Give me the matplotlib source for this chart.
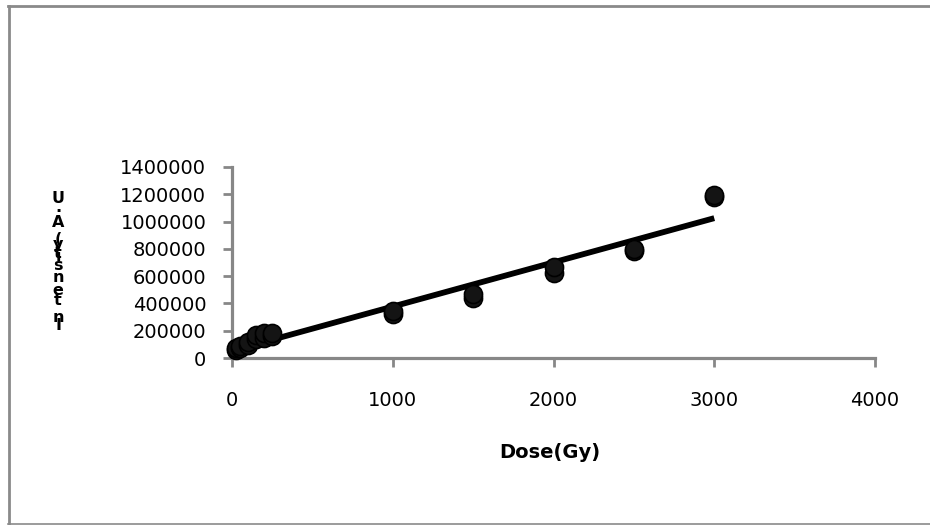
import matplotlib
matplotlib.use("Agg")
import matplotlib.pyplot as plt
from matplotlib.lines import Line2D
import numpy as np

# ---- data ----
dose_low = [25, 25, 50, 50, 100, 100, 150, 150, 200, 200, 250, 250]
intensity_low = [60000, 75000, 70000, 90000, 95000, 120000,
                 140000, 170000, 150000, 185000, 160000, 180000]
dose_high = [1000, 1000, 1500, 1500, 2000, 2000, 2500, 2500, 3000, 3000]
intensity_high = [320000, 342000, 440000, 470000, 623000, 667000,
                  784000, 799000, 1180000, 1195000]
trend_slope = 324.0
trend_intercept = 53000.0
x_ticks = [0, 1000, 2000, 3000, 4000]
y_ticks = [0, 200000, 400000, 600000, 800000, 1000000, 1200000, 1400000]
x_label = "Dose(Gy)"
y_label = "Intensity(A.U"

W, H = 930, 525
fig = plt.figure(figsize=(W / 100, H / 100), dpi=100)
fig.patch.set_facecolor("white")

ax = fig.add_axes([232 / W, 1 - 358 / H, (875 - 232) / W, (358 - 167) / H])
dose = dose_low + dose_high
inten = intensity_low + intensity_high
ax.plot(dose, inten, linestyle="none", marker="o", markersize=13,
        markerfacecolor="#141414", markeredgecolor="black", markeredgewidth=1.2,
        zorder=3, clip_on=False)
xs = np.array([min(dose), max(dose)])
ax.plot(xs, trend_intercept + trend_slope * xs, color="black", lw=4.2,
        solid_capstyle="butt", zorder=2)

ax.set_xlim(0, 4000)
ax.set_ylim(0, 1400000)
ax.set_xticks(x_ticks)
ax.set_yticks(y_ticks)
ax.set_xticklabels([str(v) for v in x_ticks])
ax.set_yticklabels([str(v) for v in y_ticks])

gray = "#878787"
for s in ["top", "right"]:
    ax.spines[s].set_visible(False)
for s in ["left", "bottom"]:
    ax.spines[s].set_color(gray)
    ax.spines[s].set_linewidth(2.3)
ax.tick_params(axis="both", direction="out", color=gray, width=2.0,
               length=6.5, labelsize=14, labelcolor="black")
ax.tick_params(axis="x", pad=17)
ax.tick_params(axis="y", pad=12)
for t in ax.get_xticklabels() + ax.get_yticklabels():
    t.set_fontfamily("DejaVu Sans")

# x label
fig.text(550 / W, 1 - 452 / H, x_label, ha="center", va="center",
         fontsize=14, fontweight="bold", family="DejaVu Sans")

# y label: characters stacked upright from bottom to top
char_baselines = [330, 322, 305, 295, 282, 270, 261, 258, 249, 244, 227, 212, 203]
for ch, yb in zip(y_label, char_baselines):
    fig.text(58 / W, 1 - yb / H, ch, ha="center", va="baseline",
             fontsize=11.5, fontweight="bold", family="DejaVu Sans")

# chart-area border (left, top, bottom)
bc = "#8a8a8a"
fig.add_artist(Line2D([9 / W, 9 / W], [1 - 6 / H, 1 - 523.5 / H],
                      transform=fig.transFigure, color=bc, lw=2.0))
fig.add_artist(Line2D([8 / W, 1.0], [1 - 6 / H, 1 - 6 / H],
                      transform=fig.transFigure, color=bc, lw=2.0))
fig.add_artist(Line2D([8 / W, 1.0], [1 - 523.5 / H, 1 - 523.5 / H],
                      transform=fig.transFigure, color=bc, lw=1.2))

fig.savefig("out.png", dpi=100, facecolor="white")
